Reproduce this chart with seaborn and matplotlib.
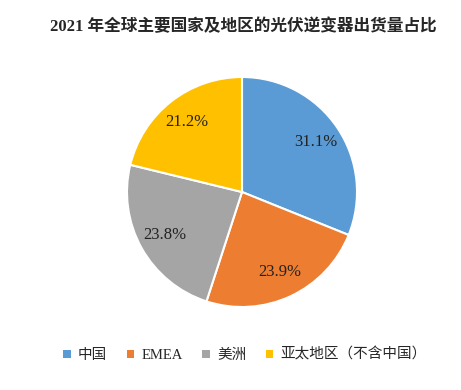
import seaborn as sns
import matplotlib.pyplot as plt
from matplotlib.patches import Patch

# shipment share by region, 2021
regions = ["中国", "EMEA", "美洲", "亚太地区（不含中国）"]
shares = [31.1, 23.9, 23.8, 21.2]
colors = ["#5B9BD5", "#ED7D31", "#A5A5A5", "#FFC000"]

sns.set_style("white")
plt.rcParams["font.family"] = ["Liberation Serif", "Noto Sans CJK SC", "DejaVu Sans"]

W, H = 461, 390
cx, cy, r = 242, 192, 115
fig = plt.figure(figsize=(W / 100, H / 100), dpi=100)
ax = fig.add_axes([(cx - r) / W, (H - cy - r) / H, 2 * r / W, 2 * r / H])

wedges, texts, autotexts = ax.pie(
    shares, colors=colors, startangle=90, counterclock=False,
    autopct="%.1f%%", pctdistance=0.77,
    wedgeprops=dict(edgecolor="white", linewidth=1.5),
    textprops=dict(fontsize=12, color="#222222"),
)
ax.set_xlim(-1, 1)
ax.set_ylim(-1, 1)
ax.set_aspect("equal")

fig.text(243 / W, 1 - 27 / H, "2021 年全球主要国家及地区的光伏逆变器出货量占比",
         ha="center", va="center", fontsize=12, fontweight="bold",
         family=["Liberation Serif", "Noto Sans CJK SC"])

handles = [Patch(facecolor=c, edgecolor="none") for c in colors]
fig.legend(handles, regions, loc="center", bbox_to_anchor=(245 / W, 1 - 355 / H),
           ncol=4, frameon=False, handlelength=0.5,
           handleheight=0.5, handletextpad=0.5, columnspacing=1.35,
           prop={"family": ["Liberation Serif", "Noto Sans CJK SC"], "size": 10.5})

fig.savefig("out.png", dpi=100)
